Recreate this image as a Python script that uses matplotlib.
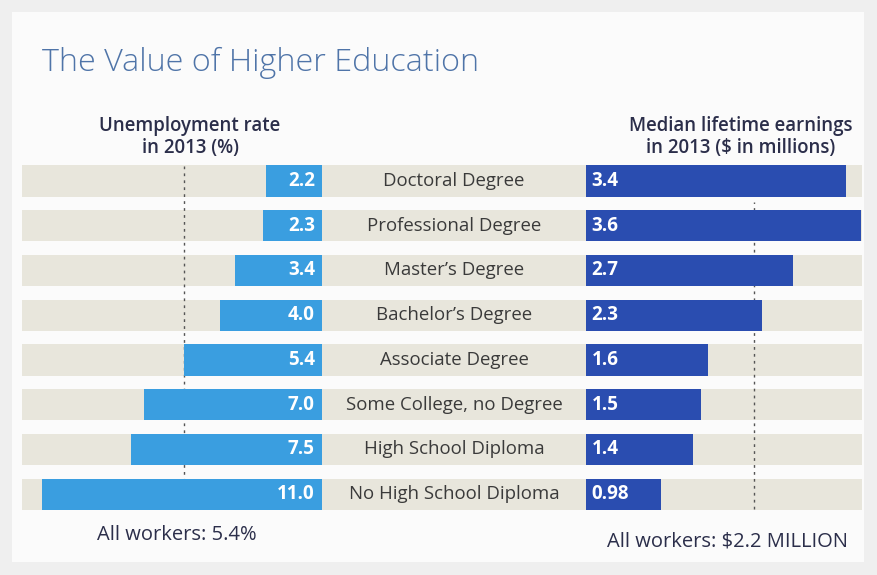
import matplotlib.pyplot as plt
from matplotlib.patches import Rectangle

plt.rcParams['font.family'] = ['Open Sans', 'DejaVu Sans']

# data
degrees = ['Doctoral Degree', 'Professional Degree', "Master\u2019s Degree",
           "Bachelor\u2019s Degree", 'Associate Degree', 'Some College, no Degree',
           'High School Diploma', 'No High School Diploma']
unemployment = [2.2, 2.3, 3.4, 4.0, 5.4, 7.0, 7.5, 11.0]
unemp_labels = ['2.2', '2.3', '3.4', '4.0', '5.4', '7.0', '7.5', '11.0']
earnings = [3.4, 3.6, 2.7, 2.3, 1.6, 1.5, 1.4, 0.98]
earn_labels = ['3.4', '3.6', '2.7', '2.3', '1.6', '1.5', '1.4', '0.98']
all_unemp = 5.4
all_earn = 2.2

LIGHT = '#3a9ee0'
DARK = '#2a4db0'
BAND = '#e8e6dc'
TEXT = '#2b2e4a'

W, H = 877, 575
fig = plt.figure(figsize=(W / 100, H / 100), dpi=100, facecolor='#efefef')

# white-ish panel behind everything
fig.patches.append(Rectangle((12 / W, 1 - 562 / H), 852 / W, 550 / H,
                             transform=fig.transFigure, facecolor='#fbfbfb',
                             edgecolor='none', zorder=-5))

top, bottom = 158.6, 516.6
ay = 1 - bottom / H
ah = (bottom - top) / H
n = len(degrees)
rows = list(range(n))
bh = 0.7

# background bands + center labels
bg = fig.add_axes([22 / W, ay, 840 / W, ah])
bg.set_xlim(0, 1)
bg.set_ylim(n - 0.5, -0.5)
bg.barh(rows, [1] * n, left=0, height=bh, color=BAND, edgecolor='none')
for i, name in enumerate(degrees):
    bg.text(432 / 840, i, name, ha='center', va='center', fontsize=13.4, color='#3a3a3a')
bg.axis('off')

# left: unemployment
axl = fig.add_axes([22 / W, ay, 300 / W, ah])
axl.set_xlim(300 / 25.5, 0)
axl.set_ylim(n - 0.5, -0.5)
axl.barh(rows, unemployment, height=bh, color=LIGHT, edgecolor='none', zorder=2)
axl.axvline(all_unemp, color='#555555', lw=1, ls=(0, (2, 3)), zorder=1, ymin=0.02, ymax=0.98)
for i, lab in enumerate(unemp_labels):
    axl.text(0.28, i, lab, ha='right', va='center', fontsize=13.5,
             fontweight='bold', color='white', zorder=3)
axl.axis('off')

# right: earnings
axr = fig.add_axes([586 / W, ay, 276 / W, ah])
axr.set_xlim(0, 276 / 76.5)
axr.set_ylim(n - 0.5, -0.5)
axr.barh(rows, earnings, height=bh, color=DARK, edgecolor='none', zorder=2)
axr.axvline(all_earn, color='#555555', lw=1, ls=(0, (2, 3)), zorder=1, ymin=0.02, ymax=0.88)
for i, lab in enumerate(earn_labels):
    axr.text(0.07, i, lab, ha='left', va='center', fontsize=13.5,
             fontweight='bold', color='white', zorder=3)
axr.axis('off')

# texts
fig.text(42 / W, 1 - 63 / H, 'The Value of Higher Education', ha='left', va='center',
         fontsize=23.3, fontweight='light', color='#4f74a8')
fig.text(190 / W, 1 - 137 / H, 'Unemployment rate\nin 2013 (%)', ha='center', va='center',
         fontsize=13.4, fontweight='semibold', color=TEXT, linespacing=1.15)
fig.text(741 / W, 1 - 137 / H, 'Median lifetime earnings\nin 2013 ($ in millions)', ha='center',
         va='center', fontsize=13.4, fontweight='semibold', color=TEXT, linespacing=1.15)
fig.text(97 / W, 1 - 535 / H, 'All workers: 5.4%', ha='left', va='center',
         fontsize=14.5, color=TEXT)
fig.text(848 / W, 1 - 541 / H, 'All workers: $2.2 MILLION', ha='right', va='center',
         fontsize=14.5, color=TEXT)

fig.savefig('out.png', dpi=100, facecolor=fig.get_facecolor())
